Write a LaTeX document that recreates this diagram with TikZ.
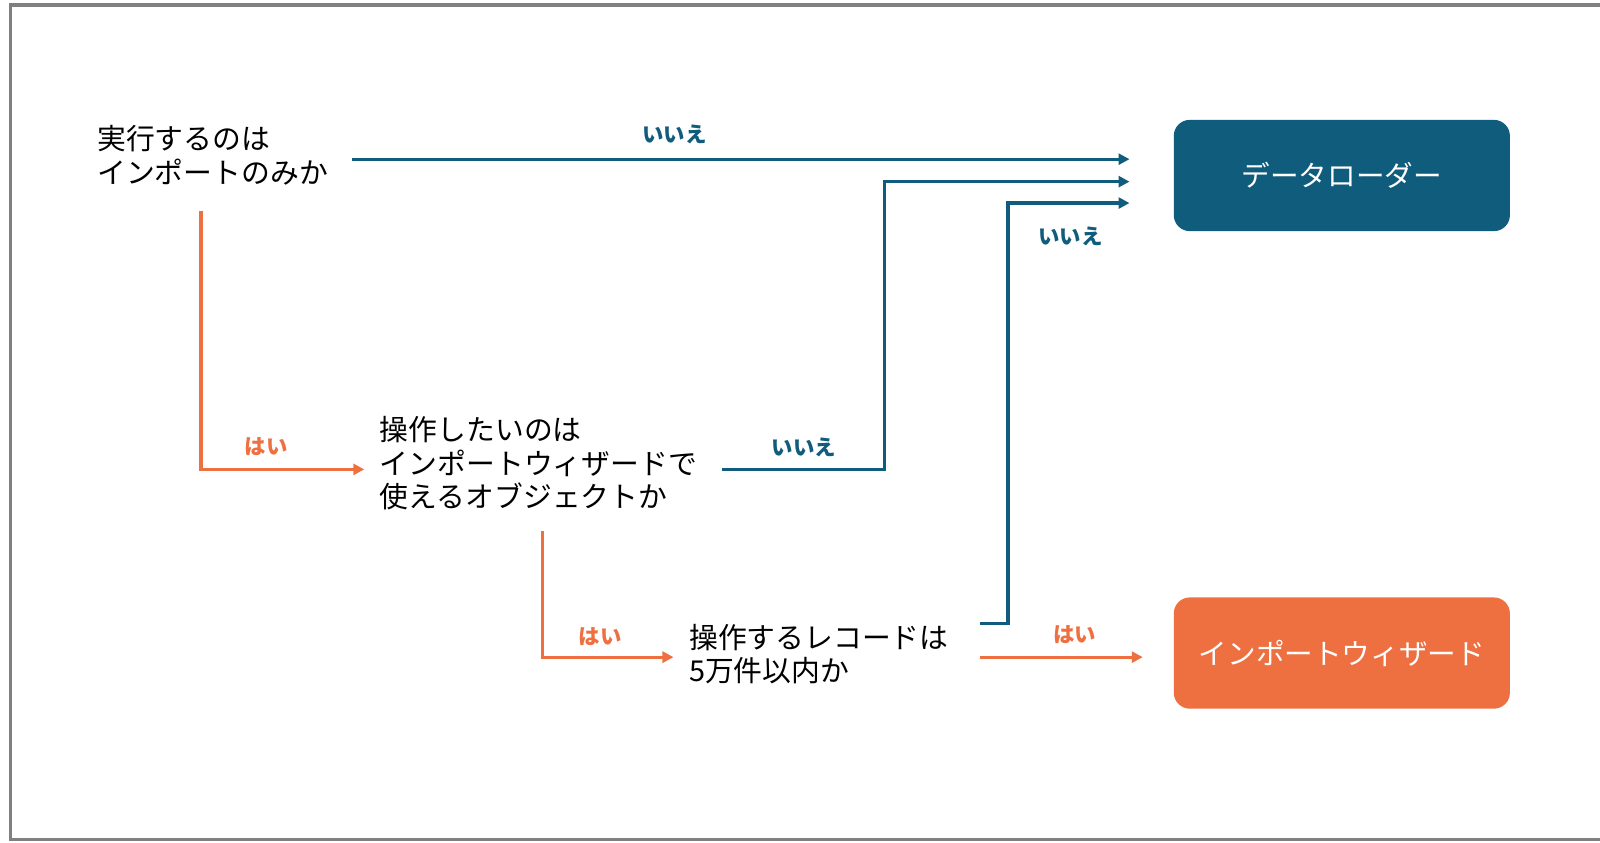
\documentclass[tikz,border=0pt]{standalone}
\usepackage{fontspec}
\setmainfont{Noto Sans CJK JP}
\usetikzlibrary{arrows.meta,calc}
\definecolor{loaderblue}{RGB}{16,92,124}
\definecolor{wizorange}{RGB}{238,112,64}
\begin{document}
\begin{tikzpicture}[x=0.51pt,y=-0.51pt,
    question/.style={anchor=west,inner sep=0pt,align=left,font=\fontsize{14.4}{16.8}\selectfont},
    answer/.style={font=\fontsize{10.7}{12}\selectfont\bfseries,inner sep=0pt},
    result/.style={rounded corners=8pt,minimum width=168pt,minimum height=55.6pt,text=white,font=\fontsize{14.3}{16}\selectfont},
    no/.style={draw=loaderblue,line width=1.6pt,-{Triangle[length=5.5pt,width=5.5pt]}},
    yes/.style={draw=wizorange,line width=1.6pt,-{Triangle[length=5.5pt,width=5.5pt]}}]
    \useasboundingbox (0,0) rectangle (1568,826);
    \draw[gray,line width=1.6pt] (1580,5) -- (10,5) -- (10,823) -- (1580,823);
    \node[question] (q1) at (95,152) {実行するのは\\インポートのみか};
    \node[question] (q2) at (372,454) {操作したいのは\\インポートウィザードで\\使えるオブジェクトか};
    \node[question] (q3) at (675,641) {操作するレコードは\\5万件以内か};
    \node[result,fill=loaderblue] (loader) at (1315,172) {データローダー};
    \node[result,fill=wizorange] (wizard) at (1315,640) {インポートウィザード};
    \coordinate (inX) at ($(loader.west)+(-43,0)$);
    \coordinate (inB) at ($(loader.west)+(-43,6)$);
    \coordinate (inC) at ($(loader.west)+(-43,27)$);
    \coordinate (wizin) at ($(wizard.west)+(-30,4)$);
    \draw[no] ($(q1.east)+(23,4)$) coordinate (s1) -- (s1 -| inX);
    \draw[yes] ($(q1.west)+(102,55)$) |- ($(q2.west)+(-15,6)$);
    \draw[no] ($(q2.east)+(24,6)$) -| ($(inB)+(-240,0)$) -- (inB);
    \draw[yes] ($(q2.west)+(160,66)$) |- ($(q3.west)+(-15,3)$);
    \draw[no] ($(q3.east)+(30,-30)$) -| ($(inC)+(-119,0)$) -- (inC);
    \draw[yes] ($(q3.east)+(30,3)$) -- (wizin);
    \node[answer,text=loaderblue] (n1) at (661,132) {いいえ};
    \node[answer,text=wizorange] (y1) at (261,438) {はい};
    \node[answer,text=loaderblue] (n2) at (788,438) {いいえ};
    \node[answer,text=wizorange] (y2) at (588,624) {はい};
    \node[answer,text=loaderblue] (n3) at (1049,232) {いいえ};
    \node[answer,text=wizorange] (y3) at (1053,622) {はい};
\end{tikzpicture}
\end{document}
